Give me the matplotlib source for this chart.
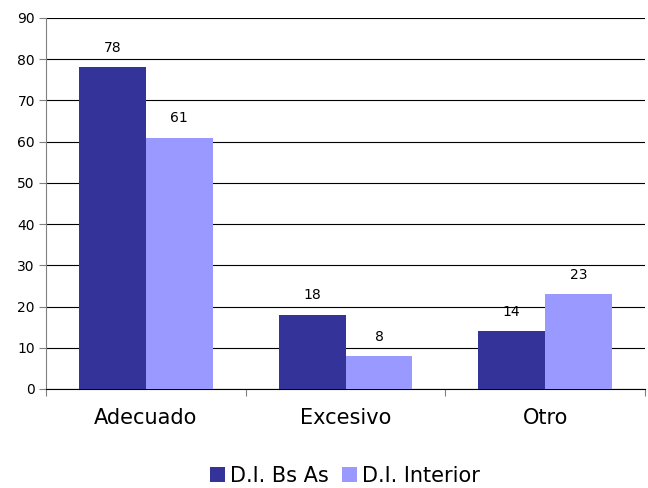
import matplotlib
matplotlib.use("Agg")
import matplotlib.pyplot as plt
import numpy as np

categories = ["Adecuado", "Excesivo", "Otro"]
series_names = ["D.I. Bs As", "D.I. Interior"]
bs_as = [78, 18, 14]
interior = [61, 8, 23]
colors = ["#333399", "#9999FF"]

plt.rcParams['font.family'] = ['DejaVu Sans']

fig = plt.figure(figsize=(6.48, 4.88), dpi=100)
ax = fig.add_axes([46/648, 1-389/488, (645-46)/648, (389-18)/488])

x = np.arange(len(categories))
w = 0.335
b1 = ax.bar(x - w/2, bs_as, w, color=colors[0], label=series_names[0], zorder=3)
b2 = ax.bar(x + w/2, interior, w, color=colors[1], label=series_names[1], zorder=3)

for bars in (b1, b2):
    for r in bars:
        ax.annotate(f"{r.get_height():g}", (r.get_x() + r.get_width()/2, r.get_height()),
                    xytext=(0, 9), textcoords="offset points", ha="center", va="bottom",
                    fontsize=10, color="black")

ax.set_xlim(-0.5, 2.5)
ax.set_ylim(0, 90)
ax.set_yticks(range(0, 91, 10))
ax.yaxis.grid(True, color="black", linewidth=0.8, zorder=0)
ax.set_axisbelow(True)

ax.set_xticks([-0.5, 0.5, 1.5, 2.5])
ax.set_xticklabels([])
ax.set_xticks(x, minor=True)
ax.set_xticklabels(categories, minor=True, fontsize=15)
ax.tick_params(axis="x", which="minor", length=0, pad=14)
ax.tick_params(axis="x", which="major", length=5, direction="out", color="#808080")
ax.tick_params(axis="y", length=5, direction="out", color="#808080", labelsize=10, pad=3)

for s in ["top", "right"]:
    ax.spines[s].set_visible(False)
ax.spines["left"].set_color("#808080")
ax.spines["bottom"].set_color("black")

fig.legend(handles=[b1, b2], labels=series_names, loc="center", bbox_to_anchor=(345/648, 1-476/488),
           ncol=2, frameon=False, fontsize=15, handlelength=0.72, handleheight=0.72,
           handletextpad=0.25, columnspacing=0.62)

fig.savefig("out.png", dpi=100)
